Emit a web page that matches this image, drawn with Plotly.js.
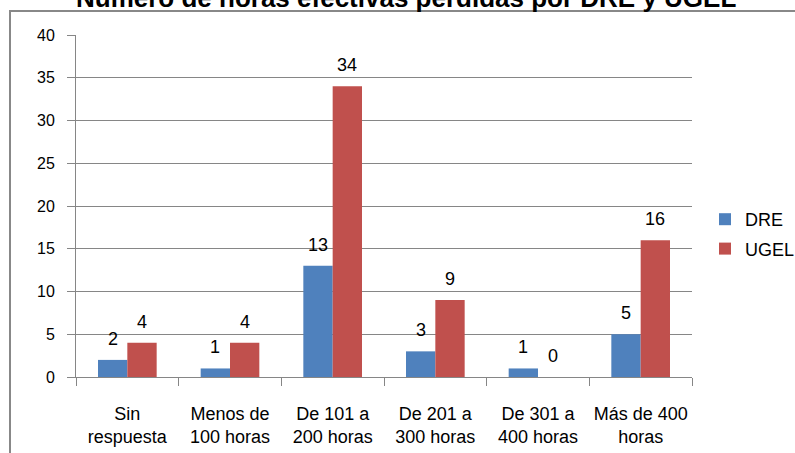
<!DOCTYPE html>
<html>
<head>
<meta charset="utf-8">
<script src="https://cdn.plot.ly/plotly-3.0.1.min.js"></script>
<style>html,body{margin:0;padding:0;background:#fff;}#chart{width:795px;height:453px;}</style>
</head>
<body>
<div id="chart"></div>
<script>
const titleText = "Número de horas efectivas perdidas por DRE y UGEL";
const categories = ["Sin<br>respuesta", "Menos de<br>100 horas", "De 101 a<br>200 horas", "De 201 a<br>300 horas", "De 301 a<br>400 horas", "Más de 400<br>horas"];
const seriesNames = ["DRE", "UGEL"];
const dreValues = [2, 1, 13, 3, 1, 5];
const ugelValues = [4, 4, 34, 9, 0, 16];
const yTicks = [0, 5, 10, 15, 20, 25, 30, 35, 40];

const colors = ["#4F81BD", "#C0504D"];
const font = "Liberation Sans, Arial, sans-serif";
const allValues = [dreValues, ugelValues];

const traces = allValues.map((vals, i) => ({
  type: "bar",
  name: seriesNames[i],
  x: categories,
  y: vals,
  marker: {color: colors[i]},
  legendgroup: "g" + i,
  hoverinfo: "x+y"
}));

const annotations = [];
allValues.forEach((vals, i) => {
  vals.forEach((v, j) => {
    annotations.push({
      x: categories[j], y: v, xref: "x", yref: "y",
      text: String(v), showarrow: false,
      xshift: i === 0 ? -14.6 : 14.6, yshift: 21,
      yanchor: "middle", xanchor: "center",
      font: {family: font, size: 18, color: "#000"}
    });
  });
});
annotations.push({
  text: "<b>" + titleText + "</b>", showarrow: false,
  xref: "paper", yref: "paper",
  x: (406 - 76) / 616, y: 1 + (35 - 15) / 342,
  xanchor: "center", yanchor: "bottom",
  font: {family: font, size: 26, color: "#000"}
});

const layout = {
  width: 795, height: 453,
  margin: {l: 76, r: 103, t: 35, b: 76, pad: 0, autoexpand: false},
  paper_bgcolor: "#fff", plot_bgcolor: "#fff",
  barmode: "group", bargap: 0.4286, bargroupgap: 0,
  showlegend: true,
  legend: {
    x: (705 - 76) / 616, y: (377 - 201) / 342, xanchor: "left", yanchor: "top",
    font: {family: font, size: 18, color: "#000"},
    traceorder: "grouped", tracegroupgap: 3, itemwidth: 30,
    bgcolor: "rgba(0,0,0,0)"
  },
  xaxis: {
    type: "category", tickangle: 0, automargin: false,
    tickson: "boundaries", ticks: "outside", ticklen: 8, tickcolor: "#868686",
    showline: true, linecolor: "#868686", linewidth: 1,
    showgrid: false, zeroline: false,
    tickfont: {family: font, size: 18, color: "#000"},
    ticklabelstandoff: 20
  },
  yaxis: {
    range: [0, 40], tickvals: yTicks, ticktext: yTicks.map(String), automargin: false,
    ticks: "outside", ticklen: 8, tickcolor: "#868686",
    showline: true, linecolor: "#868686", linewidth: 1,
    showgrid: true, gridcolor: "#868686", gridwidth: 1, zeroline: false,
    tickfont: {family: font, size: 16, color: "#000"},
    ticklabelstandoff: 9
  },
  annotations: annotations,
  shapes: [{
    type: "path", xref: "paper", yref: "paper",
    path: "M " + ((10 - 76) / 616) + " -0.5 L " + ((10 - 76) / 616) + " " + (1 + (35 - 11) / 342) + " L 1.3 " + (1 + (35 - 11) / 342),
    line: {color: "#888888", width: 2}
  }]
};

Plotly.newPlot("chart", traces, layout, {displayModeBar: false, staticPlot: true});
</script>
</body>
</html>
